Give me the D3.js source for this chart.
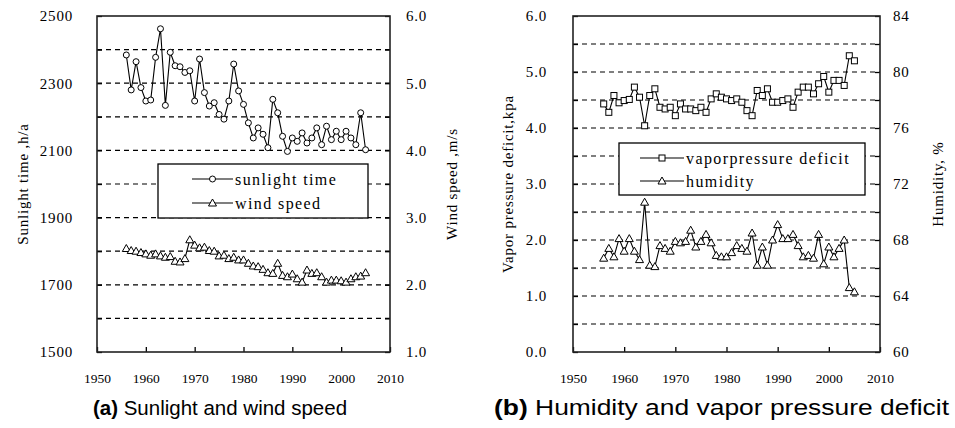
<!DOCTYPE html>
<html>
<head>
<meta charset="utf-8">
<script src="https://cdn.jsdelivr.net/npm/d3@7/dist/d3.min.js"></script>
<style>
body { margin: 0; background: #fff; }
text { font-family: "Liberation Serif", "Times New Roman", serif; fill: #000; }
.caption { font-family: "Liberation Sans", Arial, sans-serif; font-size: 20.5px; }
</style>
</head>
<body>
<svg width="955" height="428"></svg>
<script>
var years = [1956,1957,1958,1959,1960,1961,1962,1963,1964,1965,
             1966,1967,1968,1969,1970,1971,1972,1973,1974,1975,
             1976,1977,1978,1979,1980,1981,1982,1983,1984,1985,
             1986,1987,1988,1989,1990,1991,1992,1993,1994,1995,
             1996,1997,1998,1999,2000,2001,2002,2003,2004,2005];

// panel (a)
var sunlight = [2384,2280,2364,2287,2247,2250,2377,2462,2234,2392,
                2352,2349,2332,2337,2247,2372,2272,2232,2242,2207,
                2193,2247,2357,2277,2237,2182,2137,2167,2148,2108,
                2252,2212,2142,2097,2137,2127,2152,2122,2137,2167,
                2117,2172,2132,2157,2132,2157,2137,2117,2212,2102];
var wind = [2.54,2.51,2.50,2.48,2.46,2.44,2.46,2.43,2.41,2.42,
            2.35,2.34,2.39,2.67,2.59,2.55,2.56,2.51,2.50,2.43,
            2.44,2.39,2.41,2.37,2.37,2.32,2.28,2.27,2.23,2.18,
            2.17,2.32,2.14,2.12,2.16,2.09,2.04,2.22,2.17,2.18,
            2.12,2.04,2.07,2.07,2.06,2.04,2.09,2.12,2.13,2.18];

// panel (b)
var vpd = [4.43,4.28,4.58,4.45,4.49,4.51,4.73,4.55,4.04,4.58,
           4.70,4.37,4.34,4.37,4.22,4.43,4.34,4.34,4.31,4.37,
           4.28,4.52,4.61,4.55,4.52,4.49,4.52,4.46,4.31,4.22,
           4.67,4.58,4.70,4.46,4.46,4.49,4.52,4.37,4.64,4.73,
           4.73,4.61,4.79,4.92,4.64,4.85,4.85,4.76,5.29,5.20];
var humidity = [66.7,67.4,66.8,68.1,67.2,68.1,67.2,66.6,70.7,66.2,
                66.1,67.6,67.4,67.2,67.9,67.8,67.9,68.7,67.5,67.9,
                68.4,67.8,66.9,66.8,66.8,67.1,67.6,67.4,67.2,68.5,
                66.2,67.5,66.2,68.0,69.1,68.1,68.1,68.4,67.6,66.8,
                66.9,66.7,68.4,66.3,67.5,66.8,67.4,68.0,64.6,64.3];

var xTicks = [1950,1960,1970,1980,1990,2000,2010];
var sunTicks = [1500,1600,1700,1800,1900,2000,2100,2200,2300,2400,2500];
var sunLabels = [1500,1700,1900,2100,2300,2500];
var windTicks = [1.0,1.5,2.0,2.5,3.0,3.5,4.0,4.5,5.0,5.5,6.0];
var windLabels = [1.0,2.0,3.0,4.0,5.0,6.0];
var vpdTicks = [0,0.5,1.0,1.5,2.0,2.5,3.0,3.5,4.0,4.5,5.0,5.5,6.0];
var vpdLabels = [0,1,2,3,4,5,6];
var humTicks = [60,62,64,66,68,70,72,74,76,78,80,82,84];
var humLabels = [60,64,68,72,76,80,84];

var svg = d3.select("svg");

function marker(g, shape, x, y) {
  if (shape == "circle") {
    g.append("circle").attr("cx", x).attr("cy", y).attr("r", 3)
      .attr("fill", "#fff").attr("stroke", "#000");
  } else if (shape == "square") {
    g.append("rect").attr("x", x - 3).attr("y", y - 3).attr("width", 6).attr("height", 6)
      .attr("fill", "#fff").attr("stroke", "#000");
  } else {
    g.append("path").attr("d", "M" + x + "," + (y - 4) + "L" + (x + 4) + "," + (y + 3) + "L" + (x - 4) + "," + (y + 3) + "Z")
      .attr("fill", "#fff").attr("stroke", "#000");
  }
}

function panel(c) {
  var g = svg.append("g");
  var x = d3.scaleLinear().domain([1950, 2010]).range([c.x0, c.x1]);
  var yL = d3.scaleLinear().domain(c.leftDomain).range([c.y1, c.y0]);
  var yR = d3.scaleLinear().domain(c.rightDomain).range([c.y1, c.y0]);

  // dashed grid
  g.selectAll(".grid").data(c.leftTicks.slice(1, -1)).enter().append("line")
    .attr("x1", c.x0).attr("x2", c.x1)
    .attr("y1", function(d) { return yL(d); }).attr("y2", function(d) { return yL(d); })
    .attr("stroke", "#000").attr("stroke-width", 1.2).attr("stroke-dasharray", "5,4");

  var fmtL = function(d) { return c.leftLabels.indexOf(d) >= 0 ? c.fmtL(d) : ""; };
  var fmtR = function(d) { return c.rightLabels.indexOf(d) >= 0 ? c.fmtR(d) : ""; };

  var ax = g.append("g").attr("transform", "translate(" + c.x0 + ",0)")
    .call(d3.axisLeft(yL).tickValues(c.leftTicks).tickFormat(fmtL).tickSize(-5).tickPadding(c.padL));
  var axr = g.append("g").attr("transform", "translate(" + c.x1 + ",0)")
    .call(d3.axisRight(yR).tickValues(c.rightTicks).tickFormat(fmtR).tickSize(-5).tickPadding(c.padR));
  var axb = g.append("g").attr("transform", "translate(0," + c.y1 + ")")
    .call(d3.axisBottom(x).tickValues(xTicks).tickFormat(d3.format("d")).tickSize(-5).tickPadding(21));
  [ax, axr, axb].forEach(function(a) {
    a.select(".domain").remove();
    a.selectAll("line").attr("stroke", "#000").attr("stroke-width", 1.3);
    a.selectAll("text").style("font-family", '"Liberation Serif", serif')
      .style("font-size", "15px").style("letter-spacing", "0.8px");
  });
  axb.selectAll("text").style("font-size", "13.5px").style("letter-spacing", "0px");

  g.append("rect").attr("x", c.x0).attr("y", c.y0)
    .attr("width", c.x1 - c.x0).attr("height", c.y1 - c.y0)
    .attr("fill", "none").attr("stroke", "#222").attr("stroke-width", 1.6);

  // series
  c.series.forEach(function(s) {
    var sy = s.axis == "left" ? yL : yR;
    var line = d3.line().x(function(d, i) { return x(years[i]); }).y(function(d) { return sy(d); });
    g.append("path").datum(s.values).attr("d", line)
      .attr("fill", "none").attr("stroke", "#000").attr("stroke-width", 1.1);
    var mg = g.append("g");
    s.values.forEach(function(v, i) { marker(mg, s.shape, x(years[i]), sy(v)); });
  });

  // legend
  var L = c.legend;
  g.append("rect").attr("x", L.x).attr("y", L.y).attr("width", L.w).attr("height", L.h)
    .attr("fill", "#fff").attr("stroke", "#000").attr("stroke-width", 1.3);
  c.series.forEach(function(s, i) {
    var ly = L.y + L.row0 + i * L.dy;
    g.append("line").attr("x1", L.lx0).attr("x2", L.lx1).attr("y1", ly).attr("y2", ly)
      .attr("stroke", "#000").attr("stroke-width", 1.1);
    marker(g, s.shape, (L.lx0 + L.lx1) / 2, ly);
    g.append("text").attr("x", L.lx1 + 2).attr("y", ly).attr("dy", "0.35em")
      .style("font-size", "16px").style("letter-spacing", "1.4px").text(s.name);
  });

  // axis titles
  g.append("text").attr("transform", "translate(" + c.titleLx + "," + ((c.y0 + c.y1) / 2) + ") rotate(-90)")
    .attr("text-anchor", "middle").style("font-size", "15px").style("letter-spacing", "0.8px").text(c.titleL);
  g.append("text").attr("transform", "translate(" + c.titleRx + "," + ((c.y0 + c.y1) / 2) + ") rotate(-90)")
    .attr("text-anchor", "middle").style("font-size", "15px").style("letter-spacing", "0.8px").text(c.titleR);

  var cap = g.append("text").attr("class", "caption").attr("x", c.capX).attr("y", 415)
    .attr("text-anchor", c.capLen ? "start" : "middle");
  if (c.capLen) cap.attr("textLength", c.capLen).attr("lengthAdjust", "spacingAndGlyphs").style("font-size", "22px");
  cap.append("tspan").style("font-weight", "bold").text(c.capB);
  cap.append("tspan").text(c.capT);
}

panel({
  x0: 97, x1: 390, y0: 16, y1: 352,
  leftDomain: [1500, 2500], rightDomain: [1, 6],
  leftTicks: sunTicks, leftLabels: sunLabels, rightTicks: windTicks, rightLabels: windLabels,
  fmtL: d3.format("d"), fmtR: d3.format(".1f"), padL: 24, padR: 16,
  series: [
    {name: "sunlight time", values: sunlight, axis: "left", shape: "circle"},
    {name: "wind speed", values: wind, axis: "right", shape: "triangle"}
  ],
  legend: {x: 158, y: 164, w: 210, h: 54, row0: 15, dy: 24, lx0: 192, lx1: 233},
  titleL: "Sunlight time ,h/a", titleLx: 28,
  titleR: "Wind speed ,m/s", titleRx: 457,
  capX: 220, capB: "(a)", capT: " Sunlight and wind speed"
});

panel({
  x0: 573, x1: 880, y0: 16, y1: 352,
  leftDomain: [0, 6], rightDomain: [60, 84],
  leftTicks: vpdTicks, leftLabels: vpdLabels, rightTicks: humTicks, rightLabels: humLabels,
  fmtL: d3.format(".1f"), fmtR: d3.format("d"), padL: 26, padR: 13,
  series: [
    {name: "vaporpressure deficit", values: vpd, axis: "left", shape: "square"},
    {name: "humidity", values: humidity, axis: "right", shape: "triangle"}
  ],
  legend: {x: 619, y: 143, w: 246, h: 52, row0: 15, dy: 23, lx0: 640, lx1: 684},
  titleL: "Vapor pressure deficit,kpa", titleLx: 513,
  titleR: "Humidity, %", titleRx: 943,
  capX: 494, capLen: 455, capB: "(b)", capT: " Humidity and vapor pressure deficit"
});
</script>
</body>
</html>
